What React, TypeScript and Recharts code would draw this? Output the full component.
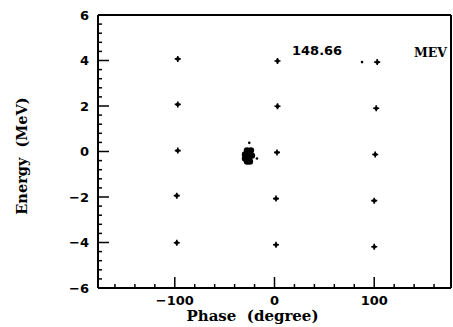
import { ScatterChart, Scatter, XAxis, YAxis, Label } from 'recharts';

// grid of injected particles (phase in degrees, energy in MeV)
const gridPhase = [-97, -97, -97, -98, -98, 3, 3, 2.5, 1.5, 1.5, 103, 102, 101, 100, 100];
const gridEnergy = [4.07, 2.07, 0.04, -1.94, -4.01, 3.98, 1.99, -0.04, -2.07, -4.1, 3.93, 1.9, -0.13, -2.16, -4.19];

// bunched particles
const bunchPhase = [-27.6, -23.6, -29.6, -25.6, -22.6, -29.6, -25.6, -27.6, -24.6];
const bunchEnergy = [0.05, 0.05, -0.13, -0.13, -0.18, -0.31, -0.31, -0.44, -0.44];

// stray dots
const strayPhase = [-25.3, -17.6, 87.8];
const strayEnergy = [0.38, -0.31, 3.93];

const phaseTicks = [-100, 0, 100];
const energyTicks = [-6, -4, -2, 0, 2, 4, 6];
const energyLabel = 'Energy  (MeV)';
const phaseLabel = 'Phase  (degree)';
const energyText = '148.66';
const unitText = 'MEV';

const zip = (xs: number[], ys: number[]) => xs.map((x, i) => ({ x, y: ys[i] }));
const gridData = zip(gridPhase, gridEnergy);
const bunchData = zip(bunchPhase, bunchEnergy);
const strayData = zip(strayPhase, strayEnergy);

// minor tick positions
const xMinor: number[] = [];
for (let v = -160; v <= 160; v += 20) xMinor.push(v);
const yMinor: number[] = [];
for (let i = 0; i <= 30; i++) yMinor.push(Math.round((-6 + i * 0.4) * 10) / 10);

const isMajorX = (v: number) => phaseTicks.includes(v);
const isMajorY = (v: number) => energyTicks.includes(v);
const fmt = (v: number) => (v < 0 ? `\u2212${Math.abs(v)}` : `${v}`);

const tickFont = { fontFamily: '"DejaVu Sans", sans-serif', fontWeight: 700, fontSize: 13 };
const titleFont = { fontFamily: '"DejaVu Serif", serif', fontWeight: 700, whiteSpace: 'pre' as const };

function BottomTick({ x, y, payload }: any) {
  const v = payload.value;
  const major = isMajorX(v);
  return (
    <g>
      <line x1={x} x2={x} y1={y} y2={y - (major ? 11 : 4)} stroke="#000" strokeWidth={1.5} />
      {major && (
        <text x={x} y={y + 12} textAnchor="middle" dominantBaseline="central" fill="#000" style={tickFont}>
          {fmt(v)}
        </text>
      )}
    </g>
  );
}

function TopTick({ x, y, payload }: any) {
  const major = isMajorX(payload.value);
  return <line x1={x} x2={x} y1={y} y2={y + (major ? 11 : 4)} stroke="#000" strokeWidth={1.5} />;
}

function LeftTick({ x, y, payload }: any) {
  const v = payload.value;
  const major = isMajorY(v);
  return (
    <g>
      <line x1={x} x2={x + (major ? 11 : 4)} y1={y} y2={y} stroke="#000" strokeWidth={1.5} />
      {major && (
        <text x={x - 9} y={y} textAnchor="end" dominantBaseline="central" fill="#000" style={tickFont}>
          {fmt(v)}
        </text>
      )}
    </g>
  );
}

function RightTick({ x, y, payload }: any) {
  const major = isMajorY(payload.value);
  return <line x1={x} x2={x - (major ? 11 : 4)} y1={y} y2={y} stroke="#000" strokeWidth={1.5} />;
}

function Star({ cx, cy }: any) {
  return (
    <g>
      <path d={`M${cx - 3},${cy}H${cx + 3}M${cx},${cy - 3}V${cy + 3}`} stroke="#000" strokeWidth={1.6} />
      <circle cx={cx} cy={cy} r={1.9} fill="#000" />
    </g>
  );
}

const axisLine = { stroke: '#000', strokeWidth: 2 };

export default function App() {
  return (
    <div style={{ position: 'absolute', left: 0, top: 0, background: '#fff' }}>
      <ScatterChart width={453} height={327} margin={{ top: 0, right: 0, bottom: 0, left: 0 }}>
        <XAxis
          dataKey="x"
          type="number"
          domain={[-177, 177]}
          ticks={xMinor}
          interval={0}
          height={39}
          tickSize={0}
          tickMargin={0}
          tickLine={false}
          axisLine={axisLine}
          tick={<BottomTick />}
        >
          <Label
            content={({ viewBox }: any) => (
              <text
                x={viewBox.x + viewBox.width / 2 - 22}
                y={viewBox.y + 28}
                textAnchor="middle"
                dominantBaseline="central"
                fill="#000"
                style={{ ...titleFont, fontSize: 15 }}
              >
                {phaseLabel}
              </text>
            )}
          />
        </XAxis>
        <XAxis
          xAxisId="top"
          orientation="top"
          type="number"
          domain={[-177, 177]}
          ticks={xMinor}
          interval={0}
          height={15}
          tickSize={0}
          tickMargin={0}
          tickLine={false}
          axisLine={axisLine}
          tick={<TopTick />}
        >
          <Label
            content={({ viewBox }: any) => (
              <g>
                <text x={viewBox.x + 194} y={viewBox.y + 50} dominantBaseline="central" fill="#000" style={tickFont}>
                  {energyText}
                </text>
                <text
                  x={viewBox.x + 316}
                  y={viewBox.y + 52}
                  dominantBaseline="central"
                  fill="#000"
                  style={{ ...titleFont, fontSize: 12.5 }}
                >
                  {unitText}
                </text>
              </g>
            )}
          />
        </XAxis>
        <YAxis
          dataKey="y"
          type="number"
          domain={[-6, 6]}
          ticks={yMinor}
          interval={0}
          width={98}
          tickSize={0}
          tickMargin={0}
          tickLine={false}
          axisLine={axisLine}
          tick={<LeftTick />}
        >
          <Label
            content={({ viewBox }: any) => {
              const cx = viewBox.x + 21;
              const cy = 156;
              return (
                <text
                  x={cx}
                  y={cy}
                  transform={`rotate(-90 ${cx} ${cy})`}
                  textAnchor="middle"
                  dominantBaseline="central"
                  fill="#000"
                  style={{ ...titleFont, fontSize: 14.5 }}
                >
                  {energyLabel}
                </text>
              );
            }}
          />
        </YAxis>
        <YAxis
          yAxisId="right"
          orientation="right"
          type="number"
          domain={[-6, 6]}
          ticks={yMinor}
          interval={0}
          width={2}
          tickSize={0}
          tickMargin={0}
          tickLine={false}
          axisLine={axisLine}
          tick={<RightTick />}
        />
        <Scatter data={gridData} fill="#000" isAnimationActive={false} shape={(p: any) => <Star cx={p.cx} cy={p.cy} />} />
        <Scatter
          data={bunchData}
          fill="#000"
          isAnimationActive={false}
          shape={(p: any) => <circle cx={p.cx} cy={p.cy} r={3.2} fill="#000" />}
        />
        <Scatter
          data={strayData}
          fill="#000"
          isAnimationActive={false}
          shape={(p: any) => <circle cx={p.cx} cy={p.cy} r={1.3} fill="#000" />}
        />
      </ScatterChart>
    </div>
  );
}
